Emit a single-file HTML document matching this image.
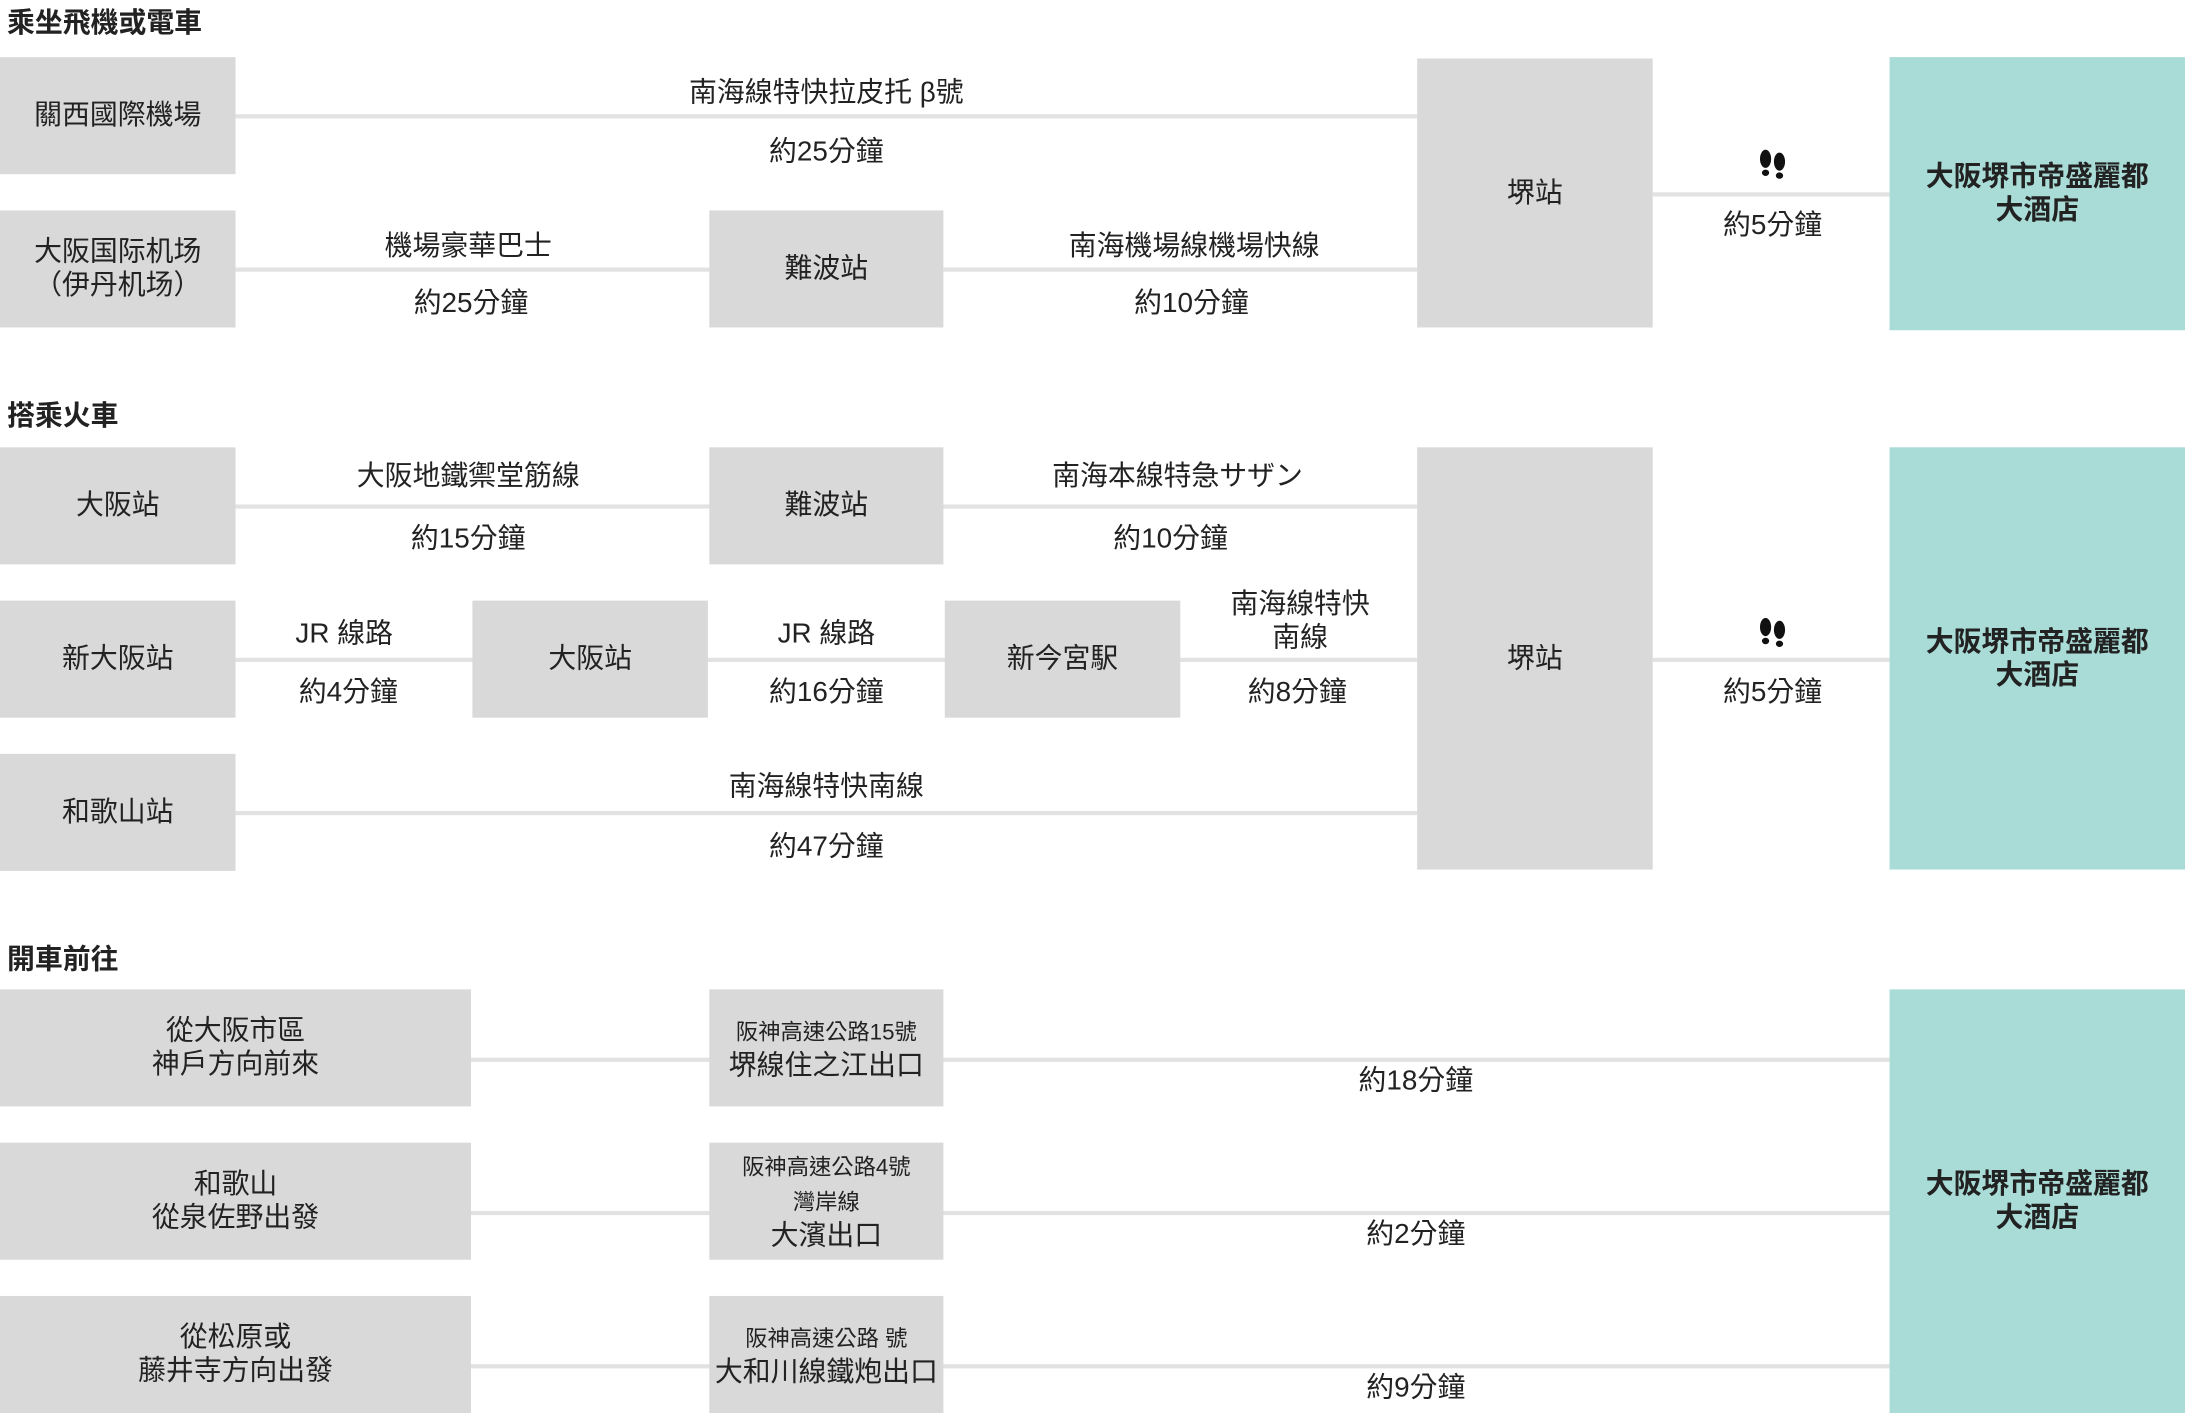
<!DOCTYPE html>
<html><head><meta charset="utf-8">
<style>
html,body{margin:0;padding:0;background:#fff;width:2185px;height:1414px;overflow:hidden}
#c{position:absolute;left:0;top:0;width:1568px;height:1015px;transform:scale(1.39349);transform-origin:0 0;font-family:"Liberation Sans","Noto Sans CJK TC",sans-serif;color:#222}
.b{position:absolute;background:#d9d9da;display:flex;align-items:center;justify-content:center;text-align:center;font-size:20px;line-height:24px}
.t{background:#a9dcd7;font-weight:bold}
.l{position:absolute;height:3px;background:#e2e2e2}
.x{position:absolute;font-size:20px;line-height:28px;text-align:center;transform:translateX(-50%);white-space:nowrap}
.h{position:absolute;left:5px;font-size:20px;font-weight:bold}
.s{font-size:16px;line-height:22px}
.f{position:absolute}
</style></head><body><div id="c">
<div class="h" style="top:0px">乘坐飛機或電車</div>
<div class="l" style="left:169px;width:848px;top:82px"></div>
<div class="l" style="left:169px;width:340px;top:192px"></div>
<div class="l" style="left:677px;width:340px;top:192px"></div>
<div class="l" style="left:1186px;width:170px;top:138px"></div>
<div class="b" style="left:0;top:41px;width:169px;height:84px">關西國際機場</div>
<div class="b" style="left:0;top:151px;width:169px;height:84px">大阪国际机场<br>（伊丹机场）</div>
<div class="b" style="left:509px;top:151px;width:168px;height:84px">難波站</div>
<div class="b" style="left:1017px;top:42px;width:169px;height:193px">堺站</div>
<div class="b t" style="left:1356px;top:41px;width:212px;height:196px">大阪堺市帝盛麗都<br>大酒店</div>
<div class="x" style="left:593px;top:53px">南海線特快拉皮托 β號</div>
<div class="x" style="left:593px;top:95px">約25分鐘</div>
<div class="x" style="left:336px;top:163px">機場豪華巴士</div>
<div class="x" style="left:338px;top:204px">約25分鐘</div>
<div class="x" style="left:857px;top:163px">南海機場線機場快線</div>
<div class="x" style="left:855px;top:204px">約10分鐘</div>
<svg class="f" style="left:1261px;top:107px" width="22" height="24" viewBox="0 0 22 24"><ellipse cx="6" cy="7" rx="4" ry="6.5" fill="#111"/><ellipse cx="6" cy="17" rx="2.6" ry="2.3" fill="#111"/><ellipse cx="16" cy="9" rx="4" ry="6.5" fill="#111"/><ellipse cx="16" cy="19" rx="2.6" ry="2.3" fill="#111"/></svg>
<div class="x" style="left:1272px;top:148px">約5分鐘</div>

<div class="h" style="top:282px">搭乘火車</div>
<div class="l" style="left:169px;width:848px;top:362px"></div>
<div class="l" style="left:169px;width:848px;top:472px"></div>
<div class="l" style="left:169px;width:848px;top:582px"></div>
<div class="l" style="left:1186px;width:170px;top:472px"></div>
<div class="b" style="left:0;top:321px;width:169px;height:84px">大阪站</div>
<div class="b" style="left:509px;top:321px;width:168px;height:84px">難波站</div>
<div class="b" style="left:0;top:431px;width:169px;height:84px">新大阪站</div>
<div class="b" style="left:339px;top:431px;width:169px;height:84px">大阪站</div>
<div class="b" style="left:678px;top:431px;width:169px;height:84px">新今宮駅</div>
<div class="b" style="left:0;top:541px;width:169px;height:84px">和歌山站</div>
<div class="b" style="left:1017px;top:321px;width:169px;height:303px">堺站</div>
<div class="b t" style="left:1356px;top:321px;width:212px;height:303px">大阪堺市帝盛麗都<br>大酒店</div>
<div class="x" style="left:336px;top:328px">大阪地鐵禦堂筋線</div>
<div class="x" style="left:336px;top:373px">約15分鐘</div>
<div class="x" style="left:845px;top:328px">南海本線特急サザン</div>
<div class="x" style="left:840px;top:373px">約10分鐘</div>
<div class="x" style="left:247px;top:441px">JR 線路</div>
<div class="x" style="left:250px;top:483px">約4分鐘</div>
<div class="x" style="left:593px;top:441px">JR 線路</div>
<div class="x" style="left:593px;top:483px">約16分鐘</div>
<div class="x" style="left:933px;top:422px;line-height:24px">南海線特快<br>南線</div>
<div class="x" style="left:931px;top:483px">約8分鐘</div>
<svg class="f" style="left:1261px;top:443px" width="22" height="24" viewBox="0 0 22 24"><ellipse cx="6" cy="7" rx="4" ry="6.5" fill="#111"/><ellipse cx="6" cy="17" rx="2.6" ry="2.3" fill="#111"/><ellipse cx="16" cy="9" rx="4" ry="6.5" fill="#111"/><ellipse cx="16" cy="19" rx="2.6" ry="2.3" fill="#111"/></svg>
<div class="x" style="left:1272px;top:483px">約5分鐘</div>
<div class="x" style="left:593px;top:551px">南海線特快南線</div>
<div class="x" style="left:593px;top:594px">約47分鐘</div>

<div class="h" style="top:672px">開車前往</div>
<div class="l" style="left:338px;width:1018px;top:759px"></div>
<div class="l" style="left:338px;width:1018px;top:869px"></div>
<div class="l" style="left:338px;width:1018px;top:979px"></div>
<div class="b" style="left:0;top:710px;width:338px;height:84px">從大阪市區<br>神戶方向前來</div>
<div class="b" style="left:0;top:820px;width:338px;height:84px">和歌山<br>從泉佐野出發</div>
<div class="b" style="left:0;top:930px;width:338px;height:84px">從松原或<br>藤井寺方向出發</div>
<div class="b" style="left:509px;top:710px;width:168px;height:84px"><div><span class="s">阪神高速公路15號</span><br>堺線住之江出口</div></div>
<div class="b" style="left:509px;top:820px;width:168px;height:84px"><div><span class="s">阪神高速公路4號<br>灣岸線</span><br>大濱出口</div></div>
<div class="b" style="left:509px;top:930px;width:168px;height:84px"><div><span class="s">阪神高速公路 號</span><br>大和川線鐵炮出口</div></div>
<div class="b t" style="left:1356px;top:710px;width:212px;height:304px">大阪堺市帝盛麗都<br>大酒店</div>
<div class="x" style="left:1016px;top:762px">約18分鐘</div>
<div class="x" style="left:1016px;top:872px">約2分鐘</div>
<div class="x" style="left:1016px;top:982px">約9分鐘</div>
</div></body></html>
